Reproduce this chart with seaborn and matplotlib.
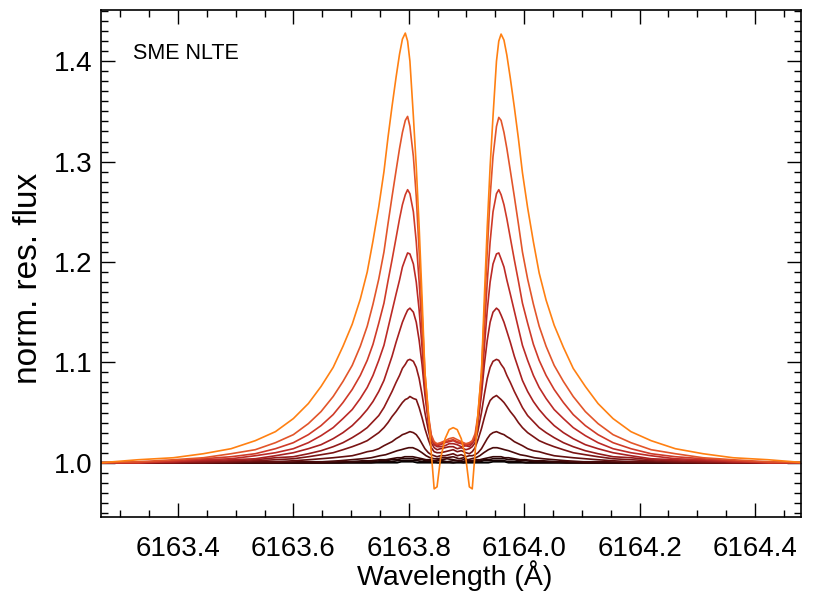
import matplotlib
matplotlib.use("Agg")
import matplotlib.pyplot as plt
from matplotlib.ticker import MultipleLocator, FormatStrFormatter
import seaborn as sns
import pandas as pd

# fine wavelength grid (Angstrom) for the eight strong profiles
wave_fine = [
    6163.266, 6163.331, 6163.392, 6163.444, 6163.492, 6163.534, 6163.569, 6163.600,
    6163.626, 6163.648, 6163.669, 6163.686, 6163.702, 6163.716, 6163.728, 6163.738,
    6163.748, 6163.757, 6163.764, 6163.771, 6163.778, 6163.784, 6163.789, 6163.794,
    6163.798, 6163.802, 6163.808, 6163.813, 6163.818, 6163.823, 6163.828, 6163.834,
    6163.839, 6163.844, 6163.849, 6163.855, 6163.863, 6163.870, 6163.877,
    6163.884, 6163.891, 6163.899, 6163.905, 6163.910, 6163.915, 6163.920, 6163.926,
    6163.931, 6163.936, 6163.941, 6163.946, 6163.952, 6163.956, 6163.960, 6163.965,
    6163.970, 6163.976, 6163.983, 6163.990, 6163.997, 6164.006, 6164.016, 6164.026,
    6164.038, 6164.052, 6164.068, 6164.085, 6164.106, 6164.128, 6164.154, 6164.185,
    6164.220, 6164.262, 6164.310, 6164.362, 6164.423, 6164.488,
]
# coarser grid for the five weak, almost flat profiles
wave_coarse = [
    6163.265, 6163.350, 6163.430, 6163.500, 6163.560, 6163.610, 6163.650,
    6163.680, 6163.700, 6163.720, 6163.735, 6163.750, 6163.760, 6163.770,
    6163.780, 6163.787, 6163.793, 6163.800, 6163.807, 6163.815, 6163.823,
    6163.830, 6163.837, 6163.844, 6163.851, 6163.858, 6163.866, 6163.877,
    6163.887, 6163.895, 6163.902, 6163.909, 6163.916, 6163.923, 6163.930,
    6163.938, 6163.946, 6163.953, 6163.960, 6163.966, 6163.973, 6163.983,
    6163.993, 6164.003, 6164.018, 6164.033, 6164.053, 6164.073, 6164.103,
    6164.143, 6164.193, 6164.253, 6164.323, 6164.403, 6164.488,
]

# normalised residual flux, strongest profile first
flux_01 = [1.000, 1.003, 1.005, 1.009, 1.014, 1.022, 1.031, 1.044, 1.059, 1.076,
           1.095, 1.116, 1.138, 1.163, 1.190, 1.221, 1.255, 1.290, 1.324, 1.355,
           1.384, 1.407, 1.422, 1.428, 1.420, 1.400, 1.345, 1.295, 1.235, 1.165,
           1.090, 1.050, 1.010, 0.974, 0.976, 1.004, 1.024, 1.033, 1.035,
           1.033, 1.024, 1.004, 0.976, 0.974, 1.010, 1.050, 1.090, 1.165, 1.235,
           1.295, 1.345, 1.400, 1.420, 1.427, 1.421, 1.406, 1.383, 1.354, 1.323,
           1.289, 1.254, 1.220, 1.189, 1.162, 1.137, 1.115, 1.094, 1.076, 1.059,
           1.044, 1.031, 1.022, 1.014, 1.009, 1.005, 1.003, 1.000]
flux_02 = [1.000, 1.001, 1.003, 1.005, 1.009, 1.013, 1.020, 1.028, 1.039, 1.051,
           1.066, 1.081, 1.097, 1.116, 1.136, 1.158, 1.183, 1.210, 1.238, 1.265,
           1.291, 1.313, 1.329, 1.341, 1.345, 1.335, 1.305, 1.265, 1.210, 1.150,
           1.090, 1.048, 1.028, 1.021, 1.019, 1.020, 1.022, 1.024, 1.025,
           1.023, 1.021, 1.019, 1.020, 1.022, 1.029, 1.048, 1.090, 1.150, 1.210,
           1.265, 1.305, 1.335, 1.344, 1.341, 1.329, 1.313, 1.291, 1.265, 1.238,
           1.210, 1.183, 1.158, 1.136, 1.116, 1.097, 1.081, 1.066, 1.051, 1.039,
           1.028, 1.020, 1.013, 1.009, 1.005, 1.003, 1.001, 1.000]
flux_03 = [1.000, 1.000, 1.002, 1.004, 1.006, 1.009, 1.014, 1.020, 1.028, 1.037,
           1.048, 1.060, 1.073, 1.087, 1.102, 1.118, 1.139, 1.159, 1.181, 1.202,
           1.224, 1.243, 1.257, 1.267, 1.272, 1.268, 1.250, 1.220, 1.180, 1.132,
           1.082, 1.045, 1.026, 1.020, 1.018, 1.019, 1.021, 1.022, 1.023,
           1.021, 1.020, 1.018, 1.019, 1.021, 1.026, 1.045, 1.082, 1.132, 1.180,
           1.220, 1.250, 1.268, 1.272, 1.267, 1.257, 1.243, 1.224, 1.202, 1.181,
           1.159, 1.139, 1.118, 1.102, 1.087, 1.073, 1.060, 1.048, 1.037, 1.028,
           1.020, 1.014, 1.009, 1.006, 1.004, 1.002, 1.000, 1.000]
flux_04 = [1.000, 1.000, 1.001, 1.003, 1.004, 1.007, 1.010, 1.014, 1.020, 1.027,
           1.035, 1.044, 1.053, 1.064, 1.075, 1.087, 1.102, 1.117, 1.134, 1.151,
           1.168, 1.182, 1.195, 1.203, 1.209, 1.208, 1.198, 1.180, 1.152, 1.115,
           1.074, 1.042, 1.025, 1.019, 1.017, 1.018, 1.020, 1.021, 1.022,
           1.020, 1.019, 1.017, 1.018, 1.020, 1.025, 1.042, 1.074, 1.115, 1.152,
           1.180, 1.198, 1.208, 1.209, 1.203, 1.195, 1.182, 1.168, 1.151, 1.134,
           1.117, 1.102, 1.087, 1.075, 1.064, 1.053, 1.044, 1.035, 1.027, 1.020,
           1.014, 1.010, 1.007, 1.004, 1.003, 1.001, 1.000, 1.000]
flux_05 = [1.000, 1.000, 1.001, 1.002, 1.003, 1.004, 1.007, 1.010, 1.014, 1.018,
           1.024, 1.030, 1.037, 1.045, 1.053, 1.061, 1.071, 1.082, 1.094, 1.106,
           1.120, 1.131, 1.140, 1.147, 1.152, 1.154, 1.150, 1.140, 1.122, 1.098,
           1.068, 1.040, 1.024, 1.018, 1.016, 1.016, 1.017, 1.019, 1.019,
           1.018, 1.016, 1.017, 1.016, 1.019, 1.024, 1.040, 1.068, 1.098, 1.122,
           1.140, 1.150, 1.154, 1.152, 1.147, 1.140, 1.131, 1.120, 1.106, 1.094,
           1.082, 1.071, 1.061, 1.053, 1.045, 1.037, 1.030, 1.024, 1.018, 1.014,
           1.010, 1.007, 1.004, 1.003, 1.002, 1.001, 1.000, 1.000]
flux_06 = [1.000, 1.000, 1.000, 1.001, 1.002, 1.003, 1.005, 1.006, 1.009, 1.012,
           1.016, 1.020, 1.025, 1.030, 1.035, 1.041, 1.047, 1.055, 1.063, 1.071,
           1.080, 1.087, 1.094, 1.098, 1.102, 1.103, 1.101, 1.095, 1.084, 1.068,
           1.050, 1.032, 1.020, 1.015, 1.013, 1.014, 1.015, 1.016, 1.016,
           1.014, 1.015, 1.013, 1.014, 1.016, 1.020, 1.032, 1.050, 1.068, 1.084,
           1.095, 1.101, 1.103, 1.102, 1.098, 1.094, 1.087, 1.080, 1.071, 1.063,
           1.055, 1.047, 1.041, 1.035, 1.030, 1.025, 1.020, 1.016, 1.012, 1.009,
           1.006, 1.005, 1.003, 1.002, 1.001, 1.000, 1.000, 1.000]
flux_07 = [1.000, 1.000, 1.000, 1.000, 1.001, 1.002, 1.003, 1.004, 1.006, 1.008,
           1.010, 1.013, 1.016, 1.019, 1.022, 1.026, 1.030, 1.035, 1.040, 1.046,
           1.051, 1.056, 1.060, 1.063, 1.064, 1.066, 1.064, 1.063, 1.055, 1.045,
           1.034, 1.023, 1.015, 1.011, 1.010, 1.010, 1.011, 1.012, 1.013,
           1.011, 1.012, 1.010, 1.009, 1.011, 1.015, 1.023, 1.034, 1.045, 1.055,
           1.062, 1.065, 1.067, 1.065, 1.063, 1.060, 1.056, 1.051, 1.046, 1.040,
           1.035, 1.030, 1.026, 1.022, 1.019, 1.016, 1.013, 1.010, 1.008, 1.006,
           1.004, 1.003, 1.002, 1.001, 1.000, 1.000, 1.000, 1.000]
flux_08 = [1.000, 1.000, 1.000, 1.000, 1.000, 1.001, 1.001, 1.002, 1.003, 1.004,
           1.005, 1.006, 1.007, 1.009, 1.011, 1.012, 1.014, 1.017, 1.019, 1.021,
           1.024, 1.026, 1.028, 1.029, 1.030, 1.031, 1.030, 1.028, 1.024, 1.019,
           1.014, 1.010, 1.008, 1.007, 1.006, 1.007, 1.007, 1.008, 1.009,
           1.007, 1.008, 1.006, 1.007, 1.007, 1.008, 1.010, 1.014, 1.019, 1.024,
           1.028, 1.030, 1.031, 1.030, 1.029, 1.028, 1.026, 1.024, 1.021, 1.019,
           1.017, 1.014, 1.012, 1.011, 1.009, 1.007, 1.006, 1.005, 1.004, 1.003,
           1.002, 1.001, 1.001, 1.000, 1.000, 1.000, 1.000, 1.000]
flux_09 = [1.000, 1.000, 1.000, 1.000, 1.000, 1.001, 1.001, 1.002, 1.003, 1.004, 1.005, 1.007, 1.008, 1.010,
           1.012, 1.013, 1.014, 1.015, 1.015, 1.013, 1.010, 1.007, 1.005, 1.004, 1.004, 1.005, 1.005, 1.006,
           1.004, 1.005, 1.003, 1.004, 1.005, 1.007, 1.010, 1.013, 1.015, 1.015, 1.014, 1.013, 1.012, 1.010,
           1.008, 1.007, 1.005, 1.004, 1.003, 1.002, 1.001, 1.001, 1.000, 1.000, 1.000, 1.000, 1.000]
flux_10 = [1.000, 1.000, 1.000, 1.000, 1.000, 1.000, 1.000, 1.001, 1.001, 1.002, 1.002, 1.003, 1.003, 1.004,
           1.005, 1.005, 1.006, 1.006, 1.006, 1.005, 1.004, 1.003, 1.003, 1.002, 1.003, 1.003, 1.004, 1.003,
           1.002, 1.003, 1.002, 1.002, 1.003, 1.003, 1.004, 1.005, 1.006, 1.006, 1.006, 1.005, 1.005, 1.004,
           1.003, 1.003, 1.002, 1.002, 1.001, 1.001, 1.000, 1.000, 1.000, 1.000, 1.000, 1.000, 1.000]
flux_11 = [1.000, 1.000, 1.000, 1.000, 1.000, 1.000, 1.000, 1.000, 1.001, 1.001, 1.001, 1.002, 1.002, 1.003,
           1.003, 1.004, 1.004, 1.004, 1.004, 1.003, 1.003, 1.002, 1.002, 1.001, 1.002, 1.002, 1.001, 1.002,
           1.002, 1.001, 1.002, 1.001, 1.002, 1.002, 1.003, 1.003, 1.004, 1.004, 1.004, 1.004, 1.003, 1.003,
           1.002, 1.002, 1.001, 1.001, 1.001, 1.000, 1.000, 1.000, 1.000, 1.000, 1.000, 1.000, 1.000]
flux_12 = [1.000, 1.000, 1.000, 1.000, 1.000, 1.000, 1.000, 1.000, 1.000, 1.000, 1.000, 1.001, 1.001, 1.001,
           1.002, 1.002, 1.002, 1.002, 1.002, 1.002, 1.001, 1.001, 1.001, 1.001, 1.000, 1.001, 1.001, 1.000,
           1.001, 1.000, 1.001, 1.001, 1.001, 1.001, 1.002, 1.002, 1.002, 1.002, 1.002, 1.002, 1.001, 1.001,
           1.001, 1.000, 1.000, 1.000, 1.000, 1.000, 1.000, 1.000, 1.000, 1.000, 1.000, 1.000, 1.000]
flux_13 = [1.000, 1.000, 1.000, 1.000, 1.000, 1.000, 1.000, 1.000, 1.000, 1.000, 1.000, 1.000, 1.000, 1.000,
           1.000, 1.001, 1.001, 1.001, 1.001, 1.000, 1.000, 1.000, 1.000, 1.000, 1.000, 1.000, 1.000, 1.000,
           1.000, 1.000, 1.000, 1.000, 1.000, 1.000, 1.000, 1.000, 1.001, 1.001, 1.001, 1.001, 1.000, 1.000,
           1.000, 1.000, 1.000, 1.000, 1.000, 1.000, 1.000, 1.000, 1.000, 1.000, 1.000, 1.000, 1.000]

fluxes = [flux_01, flux_02, flux_03, flux_04, flux_05, flux_06, flux_07,
          flux_08, flux_09, flux_10, flux_11, flux_12, flux_13]
grids = [wave_fine] * 8 + [wave_coarse] * 5
names = ["p%02d" % (i + 1) for i in range(len(fluxes))]
colors = ["#ff8012", "#e2552a", "#cf3a28", "#bc2a26", "#a82020", "#921a1a", "#7a1414",
          "#620f0f", "#4a0a0a", "#360707", "#240404", "#140202", "#000000"]

rows = []
for name, grid, fl in zip(names, grids, fluxes):
    for w, f in zip(grid, fl):
        rows.append((w, f, name))
df = pd.DataFrame(rows, columns=["wavelength", "flux", "profile"])

sns.set_style("ticks")
plt.rcParams['font.family'] = ['Liberation Sans', 'DejaVu Sans']
plt.rcParams['text.color'] = 'black'
plt.rcParams['axes.labelcolor'] = 'black'
plt.rcParams['xtick.color'] = 'black'
plt.rcParams['ytick.color'] = 'black'

fig = plt.figure(figsize=(8.13, 5.98), dpi=100)
ax = fig.add_axes([0.1242, 0.1355, 0.8610, 0.8478])

# weakest first so the orange one ends on top
order = names[::-1]
sns.lineplot(data=df, x="wavelength", y="flux", hue="profile", hue_order=order,
             palette=dict(zip(names, colors)), sort=False, estimator=None,
             legend=False, lw=1.2, ax=ax)

ax.set_xlim(6163.2666, 6164.4797)
ax.set_ylim(0.946, 1.451)
ax.xaxis.set_major_locator(MultipleLocator(0.2))
ax.xaxis.set_minor_locator(MultipleLocator(0.05))
ax.yaxis.set_major_locator(MultipleLocator(0.1))
ax.yaxis.set_minor_locator(MultipleLocator(0.01))
ax.xaxis.set_major_formatter(FormatStrFormatter("%.1f"))
ax.yaxis.set_major_formatter(FormatStrFormatter("%.1f"))
ax.tick_params(which="both", direction="in", top=True, right=True, width=1, color="black")
ax.tick_params(which="major", length=10, labelsize=20)
ax.tick_params(which="minor", length=5)
ax.tick_params(axis="x", pad=14)
ax.tick_params(axis="y", pad=6)
for s in ax.spines.values():
    s.set_linewidth(1.2)
    s.set_color("black")

ax.set_xlabel("Wavelength (Å)", fontsize=20.5)
ax.set_ylabel("norm. res. flux", fontsize=24)
ax.xaxis.set_label_coords(0.506, -0.085)
ax.yaxis.set_label_coords(-0.082, 0.471)
ax.text(0.046, 0.915, "SME NLTE", transform=ax.transAxes, fontsize=15.5, va="center", ha="left")

fig.savefig("out.png", dpi=100)
